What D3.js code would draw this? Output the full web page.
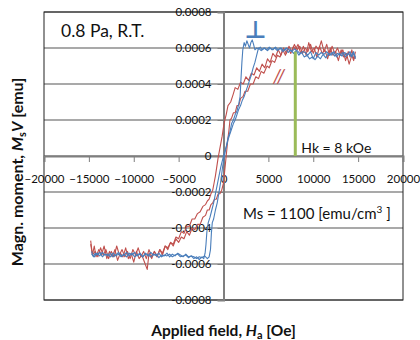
<!DOCTYPE html>
<html>
<head>
<meta charset="utf-8">
<script src="https://cdn.jsdelivr.net/npm/d3@7"></script>
<style>
  body { margin: 0; background: #fff; }
  svg { font-family: Lato, "Open Sans", sans-serif; }
</style>
</head>
<body>
<div id="canvas"><svg width="420" height="340"></svg></div>
<script>
// moments are in units of 1e-4 emu, fields in Oe
const xTicks = [-20000, -15000, -10000, -5000, 0, 5000, 10000, 15000, 20000];
const yTicks = [-0.0008, -0.0006, -0.0004, -0.0002, 0, 0.0002, 0.0004, 0.0006, 0.0008];
const yTickLabels = ["-0.0008", "-0.0006", "-0.0004", "-0.0002", "0", "0.0002", "0.0004", "0.0006", "0.0008"];

// perpendicular, field sweep up
const bluePerpUp = [
  [-14700,-5.3],[-14500,-5.6],[-14300,-5.4],[-14100,-5.5],[-13800,-5.35],[-13500,-5.6],[-13200,-5.45],
  [-12900,-5.55],[-12600,-5.4],[-12300,-5.6],[-12000,-5.5],[-11700,-5.35],[-11400,-5.55],[-11100,-5.45],
  [-10800,-5.6],[-10500,-5.4],[-10200,-5.5],[-9900,-5.35],[-9600,-5.55],[-9300,-5.45],[-9000,-5.6],
  [-8700,-5.4],[-8400,-5.5],[-8100,-5.6],[-7800,-5.45],[-7500,-5.55],[-7200,-5.4],[-6900,-5.6],
  [-6600,-5.5],[-6300,-5.55],[-6000,-5.45],[-5700,-5.6],[-5400,-5.5],[-5100,-5.45],[-4800,-5.6],
  [-4500,-5.55],[-4200,-5.5],[-3900,-5.65],[-3600,-5.55],[-3300,-5.6],[-3000,-5.7],[-2700,-5.6],
  [-2400,-5.65],[-2100,-5.55],[-1800,-5.7],[-1600,-5.6],[-1450,-5.2],[-1350,-4.3],[-1250,-3.7],
  [-1100,-3.5],[-900,-3.0],[-700,-2.6],[-500,-2.0],[-300,-1.4],[-100,-0.6],[100,0.0],[300,0.5],
  [500,1.0],[700,1.3],[900,1.8],[1100,2.0],[1300,2.3],[1500,2.5],[1700,2.9],[1850,3.3],[1950,4.3],
  [2050,5.2],[2150,5.9],[2300,6.3],[2450,6.1],[2600,6.4],[2750,6.2],[2900,6.0],[3050,6.3],[3200,6.45],
  [3350,6.2],[3500,5.9],[3700,6.0],[3900,5.95],[4100,6.05],[4300,5.9],[4600,6.0],[4900,5.85],
  [5200,6.0],[5500,5.9],[5800,6.05],[6100,5.9],[6400,6.0],[6700,5.85],[7000,6.0],[7300,5.9],
  [7600,5.8],[7900,5.95],[8200,5.85],[8500,5.7],[8800,5.8],[9100,5.75],[9400,5.6],[9700,5.8],
  [10000,5.4],[10300,5.75],[10600,5.6],[10900,5.75],[11200,5.65],[11500,5.8],[11800,5.6],
  [12100,5.75],[12400,5.55],[12700,5.7],[13000,5.6],[13300,5.75],[13600,5.5],[13900,5.7],
  [14200,5.55],[14500,5.8],[14700,5.4]
];
// perpendicular, field sweep down
const bluePerpDown = [
  [14700,5.5],[14500,5.7],[14300,5.5],[14100,5.8],[13800,5.6],[13500,5.75],[13200,5.55],[12900,5.7],
  [12600,5.5],[12300,5.8],[12000,5.6],[11700,5.7],[11400,5.45],[11100,5.65],[10800,5.4],[10500,5.55],
  [10200,5.35],[9900,5.5],[9600,5.4],[9300,5.6],[9000,5.5],[8700,5.75],[8400,5.6],[8100,5.85],
  [7800,5.7],[7500,5.9],[7200,5.75],[6900,5.95],[6600,5.8],[6300,6.0],[6000,5.85],[5700,6.0],
  [5400,5.9],[5100,6.05],[4800,5.9],[4500,6.0],[4200,5.85],[3900,6.0],[3700,5.6],[3500,5.2],
  [3300,4.9],[3100,4.5],[2900,4.2],[2700,3.9],[2500,3.6],[2300,3.3],[2100,3.1],[1900,2.8],[1700,2.6],
  [1500,2.3],[1300,2.0],[1100,1.8],[900,1.5],[700,1.2],[500,0.9],[300,0.5],[100,0.2],[-100,-0.2],
  [-300,-0.6],[-500,-1.1],[-700,-1.6],[-900,-2.1],[-1100,-2.6],[-1300,-3.0],[-1500,-3.4],[-1700,-3.7],
  [-1850,-4.2],[-1950,-4.9],[-2050,-5.4],[-2200,-5.7],[-2400,-5.6],[-2700,-5.75],[-3000,-5.6],
  [-3300,-5.7],[-3600,-5.55],[-3900,-5.6],[-4200,-5.45],[-4500,-5.6],[-4800,-5.5],[-5100,-5.4],
  [-5400,-5.55],[-5700,-5.45],[-6000,-5.6],[-6300,-5.4],[-6600,-5.55],[-6900,-5.5],[-7200,-5.65],
  [-7500,-5.45],[-7800,-5.5],[-8100,-5.35],[-8400,-5.55],[-8700,-5.45],[-9000,-5.6],[-9300,-5.4],
  [-9600,-5.5],[-9900,-5.6],[-10200,-5.4],[-10500,-5.55],[-10800,-5.35],[-11100,-5.5],[-11400,-5.6],
  [-11700,-5.45],[-12000,-5.55],[-12300,-5.4],[-12600,-5.6],[-12900,-5.45],[-13200,-5.5],
  [-13500,-5.35],[-13800,-5.55],[-14100,-5.4],[-14400,-5.6],[-14700,-5.45]
];
// in-plane, field sweep up
const redInPlaneUp = [
  [-14800,-4.7],[-14600,-5.5],[-14400,-5.0],[-14200,-5.6],[-13900,-5.2],[-13600,-5.5],[-13300,-5.0],
  [-13000,-5.7],[-12700,-5.3],[-12400,-5.6],[-12100,-5.2],[-11800,-5.8],[-11500,-5.4],[-11200,-5.6],
  [-10900,-5.1],[-10600,-5.7],[-10300,-5.4],[-10000,-5.9],[-9700,-5.3],[-9400,-5.7],[-9100,-5.5],
  [-8800,-5.9],[-8500,-6.3],[-8300,-5.4],[-8000,-5.7],[-7700,-5.3],[-7400,-5.6],[-7100,-5.2],
  [-6800,-5.5],[-6500,-5.0],[-6200,-5.2],[-5900,-4.8],[-5600,-5.0],[-5300,-4.6],[-5000,-4.8],
  [-4700,-4.5],[-4400,-4.6],[-4100,-4.2],[-3800,-4.4],[-3500,-4.0],[-3200,-4.1],[-2900,-3.8],
  [-2600,-3.8],[-2300,-3.4],[-2000,-3.3],[-1800,-3.0],[-1600,-3.0],[-1400,-2.7],[-1200,-2.6],
  [-1000,-2.4],[-800,-2.4],[-600,-2.1],[-400,-2.1],[-200,-1.9],[0,-1.5],[100,-1.0],[200,-0.5],
  [300,0.0],[400,0.5],[500,1.0],[600,1.4],[720,2.0],[900,2.1],[1100,2.4],[1300,2.4],[1500,2.8],
  [1700,2.8],[1900,3.2],[2170,3.3],[2400,3.6],[2700,3.6],[3000,4.0],[3300,4.0],[3600,4.4],
  [3900,4.3],[4200,4.7],[4500,4.6],[4850,5.0],[5100,4.9],[5400,5.3],[5700,5.2],[6000,5.6],
  [6300,5.5],[6600,5.9],[6900,5.6],[7200,6.0],[7500,5.7],[7800,6.1],[8000,5.9],[8300,6.2],
  [8600,5.7],[8900,6.1],[9200,5.6],[9500,6.3],[9800,5.8],[10100,6.0],[10400,5.5],[10700,6.1],
  [11000,5.7],[11300,5.9],[11600,5.4],[11900,6.0],[12200,5.6],[12500,5.8],[12800,5.3],[13100,5.9],
  [13400,5.5],[13700,5.7],[14000,5.1],[14300,5.6],[14500,5.3],[14700,5.8]
];
// in-plane, field sweep down
const redInPlaneDown = [
  [14700,5.5],[14500,5.4],[14300,5.9],[14100,5.5],[13900,5.8],[13600,5.3],[13300,5.9],[13000,5.6],
  [12700,6.0],[12400,5.7],[12100,6.1],[11800,5.6],[11500,6.2],[11200,5.8],[10900,6.4],[10600,5.9],
  [10300,6.1],[10000,5.7],[9700,6.2],[9400,5.8],[9100,6.0],[8800,5.7],[8500,6.1],[8200,5.9],
  [7900,6.2],[7600,5.8],[7300,6.1],[7000,5.7],[6700,6.0],[6400,5.6],[6100,5.9],[5800,5.5],
  [5500,5.7],[5200,5.2],[4900,5.4],[4600,4.9],[4300,5.1],[4000,4.7],[3700,4.9],[3400,4.5],
  [3100,4.6],[2800,4.2],[2500,4.4],[2200,4.0],[1900,4.1],[1600,3.7],[1300,3.8],[1060,3.4],
  [800,3.0],[500,2.8],[300,2.3],[150,2.0],[0,1.6],[-150,1.1],[-300,0.7],[-450,0.3],[-600,-0.1],
  [-750,-0.6],[-900,-1.1],[-1050,-1.5],[-1200,-1.9],[-1400,-2.1],[-1600,-2.4],[-1800,-2.5],
  [-2000,-2.7],[-2300,-2.8],[-2600,-3.1],[-2900,-3.2],[-3200,-3.5],[-3500,-3.5],[-3800,-3.9],
  [-4100,-3.9],[-4400,-4.3],[-4700,-4.2],[-5000,-4.6],[-5300,-4.5],[-5600,-4.9],[-5900,-4.8],
  [-6200,-5.1],[-6500,-5.0],[-6800,-5.4],[-7100,-5.2],[-7400,-5.6],[-7700,-5.3],[-8000,-5.6],
  [-8300,-5.2],[-8600,-5.7],[-8900,-5.3],[-9200,-5.6],[-9500,-5.1],[-9800,-5.5],[-10100,-5.2],
  [-10400,-5.7],[-10700,-5.3],[-11000,-5.6],[-11300,-5.2],[-11600,-5.5],[-11900,-5.0],[-12200,-5.6],
  [-12500,-5.3],[-12800,-5.7],[-13100,-5.2],[-13400,-5.5],[-13700,-5.1],[-14000,-5.6],[-14300,-5.3],
  [-14600,-5.5],[-14800,-4.9]
];

const hk = 8000;          // Oe
const hkMoment = 0.00058; // emu

const svg = d3.select("#canvas").select("svg");
const margin = { top: 12, right: 17, bottom: 40, left: 44 };
const width = 420 - margin.left - margin.right;
const height = 340 - margin.top - margin.bottom;

const x = d3.scaleLinear().domain([-20000, 20000]).range([0, width]);
const y = d3.scaleLinear().domain([-0.0008, 0.0008]).range([height, 0]);

const g = svg.append("g").attr("transform", `translate(${margin.left},${margin.top})`);

// horizontal grid lines
g.append("g")
  .selectAll("line")
  .data(yTicks)
  .join("line")
  .attr("x1", 0).attr("x2", width)
  .attr("y1", d => y(d)).attr("y2", d => y(d))
  .attr("stroke", "#8c8c8c")
  .attr("stroke-width", 1.3);

// plot border
g.append("rect")
  .attr("x", 0).attr("y", 0)
  .attr("width", width).attr("height", height)
  .attr("fill", "none")
  .attr("stroke", "#222")
  .attr("stroke-width", 1);

// axes through the origin
const xAxis = d3.axisBottom(x).tickValues(xTicks).tickSize(6).tickFormat(d3.format("d"));
const xg = g.append("g").attr("transform", `translate(0,${y(0)})`).call(xAxis);
xg.select(".domain").attr("stroke", "#7f7f7f").attr("stroke-width", 2);
xg.selectAll(".tick line").attr("stroke", "#7f7f7f");
xg.selectAll(".tick text")
  .attr("y", 23)
  .attr("dy", "0.32em")
  .attr("fill", "#111")
  .style("font-size", "11.5px")
  .style("font-family", "Lato, sans-serif");

const yAxis = d3.axisLeft(y).tickValues(yTicks).tickSize(6).tickFormat((d, i) => yTickLabels[i]);
const yg = g.append("g").attr("transform", `translate(${x(0)},0)`).call(yAxis);
yg.select(".domain").attr("stroke", "#7f7f7f").attr("stroke-width", 2);
yg.selectAll(".tick line").attr("stroke", "#7f7f7f");
yg.selectAll(".tick text")
  .attr("x", -12)
  .attr("fill", "#111")
  .style("font-size", "11.5px")
  .style("font-family", "Lato, sans-serif");

// loops
const line = d3.line()
  .x(d => x(d[0]))
  .y(d => y(d[1] * 1e-4));

const loops = [
  { up: redInPlaneUp, down: redInPlaneDown, color: "#c0504d" },
  { up: bluePerpUp, down: bluePerpDown, color: "#4a7ebb" }
];
loops.forEach(l => {
  [l.up, l.down].forEach(branch => {
    g.append("path")
      .datum(branch)
      .attr("d", line)
      .attr("fill", "none")
      .attr("stroke", l.color)
      .attr("stroke-width", 1.1)
      .attr("stroke-linejoin", "round");
  });
});

// Hk marker
g.append("line")
  .attr("x1", x(hk)).attr("x2", x(hk))
  .attr("y1", y(hkMoment)).attr("y2", y(0))
  .attr("stroke", "#9bbb59")
  .attr("stroke-width", 3);

// annotations
g.append("text")
  .attr("x", 17).attr("y", 25)
  .style("font-size", "17.5px")
  .attr("fill", "#111")
  .text("0.8 Pa, R.T.");

g.append("text")
  .attr("x", x(hk) + 6).attr("y", y(0) - 3)
  .style("font-size", "14px")
  .attr("fill", "#111")
  .text("Hk = 8 kOe");

const ms = g.append("text")
  .attr("x", 199).attr("y", 207)
  .style("font-size", "15px")
  .attr("fill", "#111");
ms.append("tspan").text("Ms = 1100 [emu/cm");
ms.append("tspan").attr("dy", -6).style("font-size", "10px").text("3");
ms.append("tspan").attr("dy", 6).text(" ]");

g.append("text")
  .attr("x", 211.5).attr("y", 26)
  .attr("text-anchor", "middle")
  .style("font-size", "24px")
  .style("font-weight", "bold")
  .style("font-family", "DejaVu Sans, sans-serif")
  .attr("fill", "#4a7ebb")
  .text("⊥");

g.append("text")
  .attr("x", 235).attr("y", 71)
  .attr("text-anchor", "middle")
  .style("font-size", "19px")
  .style("font-style", "italic")
  .attr("fill", "#c0504d")
  .text("//");

// axis titles
const xt = svg.append("text")
  .attr("x", margin.left + x(0)).attr("y", 336)
  .attr("text-anchor", "middle")
  .style("font-size", "15.5px")
  .style("font-weight", "bold")
  .attr("fill", "#111");
xt.append("tspan").text("Applied field, ");
xt.append("tspan").style("font-style", "italic").text("H");
xt.append("tspan").attr("dy", 3).style("font-size", "11px").text("a");
xt.append("tspan").attr("dy", -3).text(" [Oe]");

const yt = svg.append("text")
  .attr("transform", "translate(23,172) rotate(-90)")
  .attr("text-anchor", "middle")
  .style("font-size", "16px")
  .style("font-weight", "bold")
  .attr("fill", "#111");
yt.append("tspan").text("Magn. moment, ");
yt.append("tspan").style("font-style", "italic").text("M");
yt.append("tspan").attr("dy", 3).style("font-size", "11px").text("s");
yt.append("tspan").attr("dy", -3).style("font-style", "italic").text("V");
yt.append("tspan").text(" [emu]");
</script>
</body>
</html>
